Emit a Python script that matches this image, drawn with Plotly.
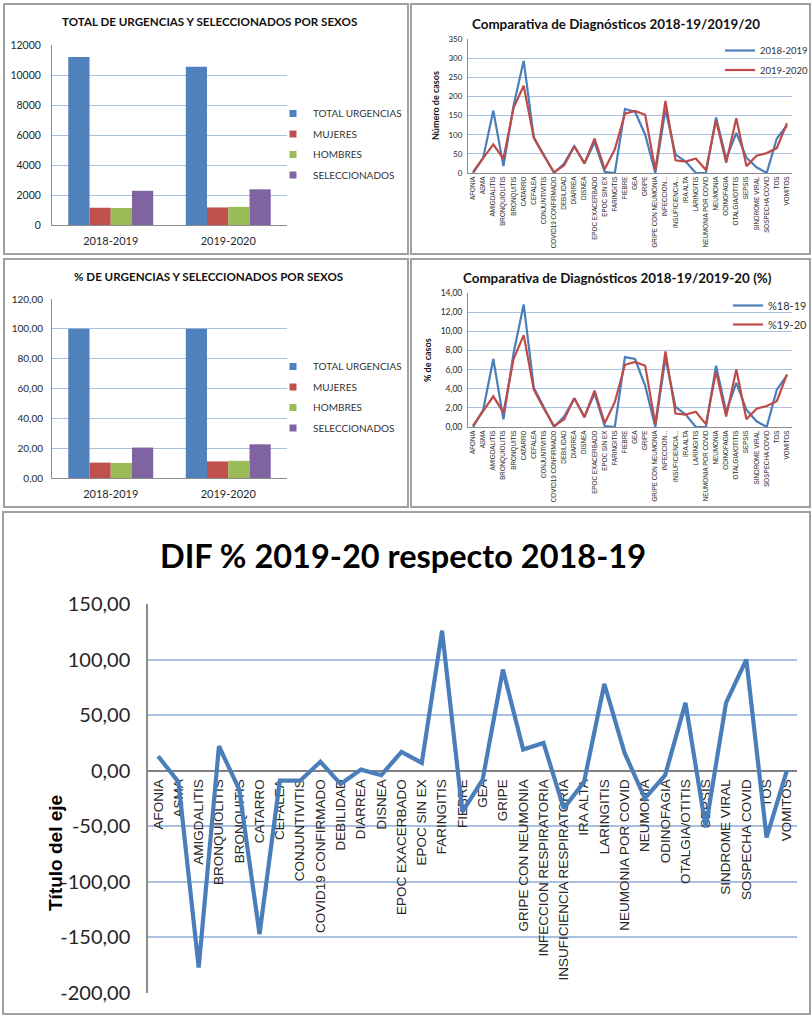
import plotly.graph_objects as go

W, H = 811, 1015

# ---------------- data ----------------
periodos = ["2018-2019", "2019-2020"]
series_sexo = ["TOTAL URGENCIAS", "MUJERES", "HOMBRES", "SELECCIONADOS"]
total_urgencias = [11200, 10550]
mujeres = [1150, 1170]
hombres = [1130, 1210]
seleccionados = [2280, 2380]

pct_total = [100.0, 100.0]
pct_mujeres = [10.3, 11.1]
pct_hombres = [10.1, 11.5]
pct_seleccionados = [20.4, 22.6]

diagnosticos = [
    "AFONIA", "ASMA", "AMIGDALITIS", "BRONQUIOLITIS", "BRONQUITIS", "CATARRO",
    "CEFALEA", "CONJUNTIVITIS", "COVID19 CONFIRMADO", "DEBILIDAD", "DIARREA",
    "DISNEA", "EPOC EXACERBADO", "EPOC SIN EX", "FARINGITIS", "FIEBRE", "GEA",
    "GRIPE", "GRIPE CON NEUMONIA", "INFECCION RESPIRATORIA",
    "INSUFICIENCIA RESPIRATORIA", "IRA ALTA", "LARINGITIS", "NEUMONIA POR COVID",
    "NEUMONIA", "ODINOFAGIA", "OTALGIA/OTITIS", "SEPSIS", "SINDROME VIRAL",
    "SOSPECHA COVID", "TOS", "VOMITOS",
]
etiquetas_cortas = [
    "AFONIA", "ASMA", "AMIGDALITIS", "BRONQUIOLITIS", "BRONQUITIS", "CATARRO",
    "CEFALEA", "CONJUNTIVITIS", "COVID19 CONFIRMADO", "DEBILIDAD", "DIARREA",
    "DISNEA", "EPOC EXACERBADO", "EPOC SIN EX", "FARINGITIS", "FIEBRE", "GEA",
    "GRIPE", "GRIPE CON NEUMONIA", "INFECCION...", "INSUFICIENCIA...",
    "IRA ALTA", "LARINGITIS", "NEUMONIA POR COVID", "NEUMONIA", "ODINOFAGIA",
    "OTALGIA/OTITIS", "SEPSIS", "SINDROME VIRAL", "SOSPECHA COVID", "TOS",
    "VOMITOS",
]
casos_2018_19 = [0, 40, 163, 18, 176, 293, 93, 45, 0, 25, 70, 25, 80, 3, 0, 167,
                 160, 100, 0, 165, 48, 30, 0, 0, 145, 37, 105, 40, 15, 0, 90, 124]
casos_2019_20 = [3, 40, 75, 37, 170, 228, 92, 45, 2, 20, 70, 25, 90, 10, 62, 155,
                 162, 152, 8, 188, 33, 30, 38, 8, 138, 27, 143, 18, 45, 52, 65, 130]
pct_18_19 = [0.0, 1.8, 7.1, 0.8, 7.7, 12.8, 4.1, 2.0, 0.0, 1.1, 3.0, 1.1, 3.5, 0.1,
             0.0, 7.3, 7.1, 4.3, 0.0, 7.2, 2.1, 1.3, 0.0, 0.0, 6.4, 1.6, 4.6, 1.8,
             0.6, 0.0, 3.9, 5.4]
pct_19_20 = [0.15, 1.7, 3.2, 1.5, 7.1, 9.6, 3.9, 1.9, 0.1, 0.8, 3.0, 1.0, 3.8, 0.4,
             2.6, 6.5, 6.8, 6.4, 0.3, 7.9, 1.4, 1.3, 1.6, 0.3, 5.8, 1.1, 6.0, 0.8,
             1.9, 2.2, 2.7, 5.5]
dif_pct = [13, -10, -177, 22, -17, -147, -9, -9, 8, -12, 1, -4, 17, 7, 126, -37,
           -8, 91, 19, 25, -34, -10, 78, 16, -25, -4, 61, -51, 61, 100, -60, 0]

ticks_abs = [0, 2000, 4000, 6000, 8000, 10000, 12000]
ticks_pct_bar = [0, 20, 40, 60, 80, 100, 120]
ticks_casos = [0, 50, 100, 150, 200, 250, 300, 350]
ticks_pct_diag = [0, 2, 4, 6, 8, 10, 12, 14]
ticks_dif = [-200, -150, -100, -50, 0, 50, 100, 150]


def coma(v):
    return f"{v:.2f}".replace(".", ",")


# ---------------- layout helpers ----------------
def px(x):
    return x / W


def py(y):
    return 1 - y / H


FONT = "Lato, 'Open Sans', sans-serif"
ARIAL = "'Liberation Sans', Arial, sans-serif"
GRID = "#aac0e0"
AXL = "#8c8c8c"
TXT = "#262626"
BAR_COLORS = ["#4F81BD", "#C0504D", "#9BBB59", "#8064A2"]
BLUE = "#4A7EBB"
RED = "#BE4B48"
N = len(diagnosticos)


def cat_range():
    return [-0.5, N - 0.5]


fig = go.Figure()

# top-left bars (absolute)
for i, (name, vals) in enumerate(zip(series_sexo, [total_urgencias, mujeres, hombres, seleccionados])):
    fig.add_trace(go.Bar(x=periodos, y=vals, name=name, marker=dict(color=BAR_COLORS[i], line=dict(width=0)),
                         xaxis="x", yaxis="y", showlegend=False))
    fig.add_trace(go.Scatter(x=[None], y=[None], mode="markers", name=name,
                             marker=dict(symbol="square", size=7, color=BAR_COLORS[i]),
                             xaxis="x", yaxis="y", legend="legend", legendgroup=f"a{i}"))

# middle-left bars (percent)
for i, (name, vals) in enumerate(zip(series_sexo, [pct_total, pct_mujeres, pct_hombres, pct_seleccionados])):
    fig.add_trace(go.Bar(x=periodos, y=vals, name=name, marker=dict(color=BAR_COLORS[i], line=dict(width=0)),
                         xaxis="x2", yaxis="y2", showlegend=False))
    fig.add_trace(go.Scatter(x=[None], y=[None], mode="markers", name=name,
                             marker=dict(symbol="square", size=7, color=BAR_COLORS[i]),
                             xaxis="x2", yaxis="y2", legend="legend2", legendgroup=f"b{i}"))

# top-right lines (cases)
fig.add_trace(go.Scatter(x=diagnosticos, y=casos_2018_19, name="2018-2019", mode="lines",
                         line=dict(color=BLUE, width=2.2), xaxis="x3", yaxis="y3", legend="legend3",
                         legendgroup="c0"))
fig.add_trace(go.Scatter(x=diagnosticos, y=casos_2019_20, name="2019-2020", mode="lines",
                         line=dict(color=RED, width=2.2), xaxis="x3", yaxis="y3", legend="legend3",
                         legendgroup="c1"))

# middle-right lines (percent)
fig.add_trace(go.Scatter(x=diagnosticos, y=pct_18_19, name="%18-19", mode="lines",
                         line=dict(color=BLUE, width=2.2), xaxis="x4", yaxis="y4", legend="legend4",
                         legendgroup="d0"))
fig.add_trace(go.Scatter(x=diagnosticos, y=pct_19_20, name="%19-20", mode="lines",
                         line=dict(color=RED, width=2.2), xaxis="x4", yaxis="y4", legend="legend4",
                         legendgroup="d1"))

# bottom line (difference)
fig.add_trace(go.Scatter(x=diagnosticos, y=dif_pct, name="DIF %", mode="lines",
                         line=dict(color=BLUE, width=4.2), xaxis="x5", yaxis="y5", showlegend=False))

# bottom x axis sits on the value 0
y5_dom = [py(993), py(604)]
y5_range = [-200, 150]
x5_pos = y5_dom[0] + (0 - y5_range[0]) / (y5_range[1] - y5_range[0]) * (y5_dom[1] - y5_dom[0])


def cat_x(domain, anchor, **kw):
    d = dict(domain=domain, anchor=anchor, type="category", showline=True, linecolor=AXL, linewidth=1,
             showgrid=False, zeroline=False, ticks="", fixedrange=True, automargin=False)
    d.update(kw)
    return d


def val_y(domain, anchor, rng, vals, texts, size, **kw):
    d = dict(domain=domain, anchor=anchor, range=rng, tickmode="array", tickvals=vals, ticktext=texts,
             showgrid=True, gridcolor=GRID, gridwidth=1, showline=True, linecolor=AXL, linewidth=1,
             zeroline=False, ticks="", tickfont=dict(family=FONT, size=size, color=TXT), fixedrange=True,
             automargin=False)
    d.update(kw)
    return d


legend_common = dict(bgcolor="rgba(0,0,0,0)", borderwidth=0, traceorder="grouped", xanchor="left",
                     yanchor="top", itemclick=False, itemdoubleclick=False)

fig.update_layout(
    width=W, height=H, margin=dict(l=0, r=0, t=0, b=0, autoexpand=False),
    paper_bgcolor="white", plot_bgcolor="white",
    barmode="group", bargap=0.277, bargroupgap=0,
    font=dict(family=FONT, color=TXT),
    xaxis=cat_x([px(52), px(287)], "y", tickfont=dict(family=FONT, size=11, color=TXT), ticklabelstandoff=6),
    yaxis=val_y([py(225), py(45)], "x", [0, 12000], ticks_abs, [str(v) for v in ticks_abs], 10.5,
                ticklabelstandoff=8),
    xaxis2=cat_x([px(52), px(287)], "y2", tickfont=dict(family=FONT, size=11, color=TXT), ticklabelstandoff=6),
    yaxis2=val_y([py(478), py(299)], "x2", [0, 120], ticks_pct_bar, [coma(v) for v in ticks_pct_bar], 10,
                 ticklabelstandoff=6),
    xaxis3=cat_x([px(468), px(792)], "y3", range=cat_range(), tickmode="array", tickvals=diagnosticos,
                 ticktext=etiquetas_cortas, tickangle=-90, tickfont=dict(family=ARIAL, size=6.3, color=TXT),
                 ticklabeloverflow="allow"),
    yaxis3=val_y([py(173), py(39)], "x3", [0, 350], ticks_casos, [str(v) for v in ticks_casos], 8,
                 ticklabelstandoff=3),
    xaxis4=cat_x([px(468), px(792)], "y4", range=cat_range(), tickmode="array", tickvals=diagnosticos,
                 ticktext=etiquetas_cortas, tickangle=-90, tickfont=dict(family=ARIAL, size=6.3, color=TXT),
                 ticklabeloverflow="allow"),
    yaxis4=val_y([py(427), py(293)], "x4", [0, 14], ticks_pct_diag, [coma(v) for v in ticks_pct_diag], 8.5,
                 ticklabelstandoff=3),
    xaxis5=cat_x([px(148), px(797)], "free", range=cat_range(), position=x5_pos, linecolor="#808080",
                 linewidth=2.2, layer="below traces", tickmode="array", tickvals=diagnosticos,
                 ticktext=diagnosticos, tickangle=-90, tickfont=dict(family=ARIAL, size=13.5, color=TXT),
                 ticklabelstandoff=2, ticklabeloverflow="allow"),
    yaxis5=val_y(y5_dom, "x5", y5_range, ticks_dif, [coma(v) for v in ticks_dif], 20,
                 gridwidth=1.6, linewidth=1.5, ticklabelstandoff=12),
    legend=dict(legend_common, x=px(273), y=py(99), tracegroupgap=1.5,
                font=dict(family=FONT, size=10, color="#333333")),
    legend2=dict(legend_common, x=px(273), y=py(352), tracegroupgap=1.5,
                 font=dict(family=FONT, size=10, color="#333333")),
    legend3=dict(legend_common, x=px(720), y=py(36), tracegroupgap=0.5,
                 font=dict(family=FONT, size=9.5, color="#333333")),
    legend4=dict(legend_common, x=px(728), y=py(291), tracegroupgap=0,
                 font=dict(family=FONT, size=11, color="#333333")),
)

annotations = [
    dict(text="<b>TOTAL DE URGENCIAS Y SELECCIONADOS POR SEXOS</b>", x=px(209), y=py(22),
         font=dict(family=FONT, size=11.6, color="#111111")),
    dict(text="<b>% DE URGENCIAS Y SELECCIONADOS POR SEXOS</b>", x=px(208), y=py(276),
         font=dict(family=FONT, size=11.6, color="#111111")),
    dict(text="<b>Comparativa de Diagnósticos 2018-19/2019/20</b>", x=px(616), y=py(24),
         font=dict(family=FONT, size=13.4, color="#111111")),
    dict(text="<b>Comparativa de Diagnósticos 2018-19/2019-20 (%)</b>", x=px(617), y=py(278),
         font=dict(family=FONT, size=13.4, color="#111111")),
    dict(text="<b>DIF % 2019-20 respecto 2018-19</b>", x=px(403), y=py(555),
         font=dict(family=FONT, size=32.5, color="#000000")),
    dict(text="<b>Número de casos</b>", x=px(435), y=py(106), textangle=-90,
         font=dict(family=FONT, size=9, color="#111111")),
    dict(text="<b>% de casos</b>", x=px(427), y=py(360), textangle=-90,
         font=dict(family=FONT, size=9, color="#111111")),
    dict(text="<b>Título del eje</b>", x=px(55), y=py(853), textangle=-90,
         font=dict(family=ARIAL, size=19, color="#000000")),
]
for a in annotations:
    a.update(xref="paper", yref="paper", showarrow=False, xanchor="center", yanchor="middle")
fig.update_layout(annotations=annotations)

FRAME = "#a0a0a0"
frames = [(4, 4, 408, 254), (411, 4, 810, 254), (4, 259, 408, 507), (411, 259, 810, 507), (3, 512, 810, 1014)]
shapes = []
for x0, y0, x1, y1 in frames:
    shapes.append(dict(type="rect", xref="paper", yref="paper", x0=px(x0), x1=px(x1), y0=py(y1), y1=py(y0),
                       line=dict(color=FRAME, width=2), layer="below"))
fig.update_layout(shapes=shapes)

fig.write_html("out.html", config={"displayModeBar": False},
               post_script="document.body.style.margin='0px';document.body.style.overflow='hidden';")
